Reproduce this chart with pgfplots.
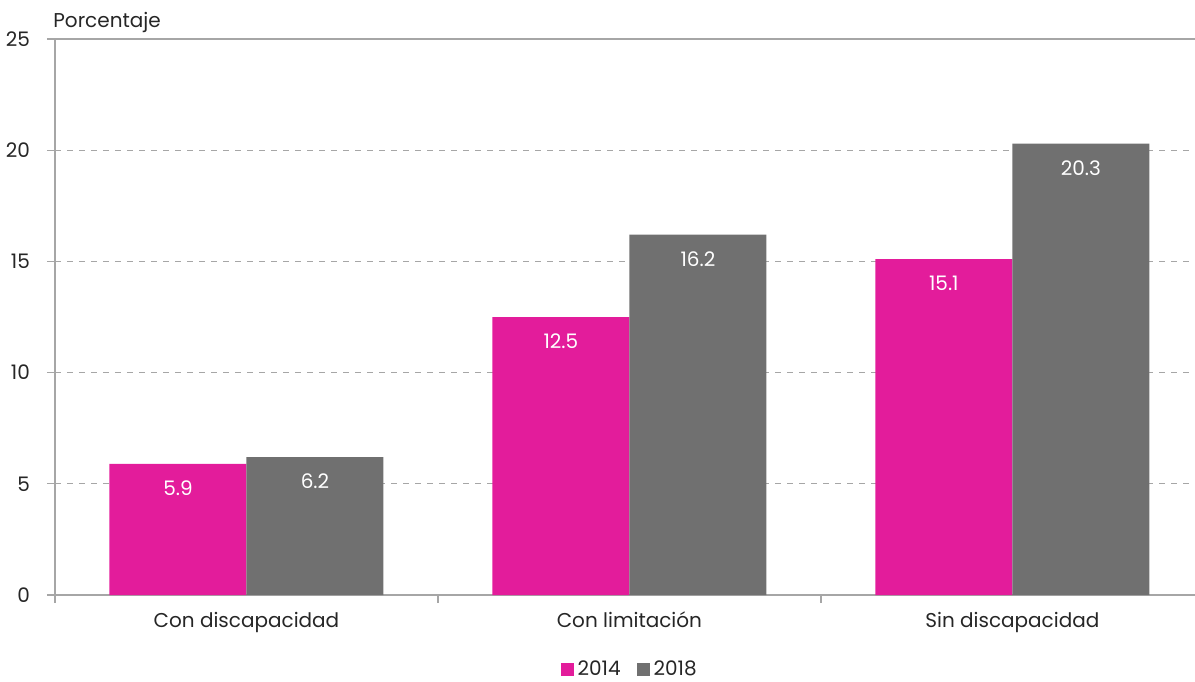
\documentclass[border=0pt]{standalone}
\usepackage{fontspec}
\setmainfont{Poppins}
\usepackage{pgfplots}
\pgfplotsset{compat=1.18}
\definecolor{rosa}{RGB}{227,28,155}
\definecolor{gris}{RGB}{112,112,112}
\definecolor{texto}{RGB}{38,38,38}
\definecolor{linea}{RGB}{166,166,166}

\begin{document}
\begin{tikzpicture}
\begin{axis}[
    at={(0,0)}, anchor=south west,
    scale only axis,
    width=570pt, height=278pt,
    ybar=0pt, bar width=68.5pt,
    xmin=-0.5, xmax=2.477,
    ymin=0, ymax=25,
    ytick={0,5,...,20},
    extra y ticks={25},
    extra y tick style={grid style={solid, linea, line width=0.6pt}},
    xtick={0,1,2},
    xticklabels={Con discapacidad, Con limitación, Sin discapacidad},
    extra x ticks={-0.5,0.5,1.5},
    extra x tick labels={},
    extra x tick style={x tick style={draw=linea, line width=0.7pt}},
    x tick style={draw=none},
    y tick style={draw=linea, line width=0.6pt},
    major tick length=4pt,
    axis x line*=bottom, axis y line*=left,
    axis line style={draw=linea, line width=0.7pt},
    tick align=outside,
    ymajorgrids, grid style={dashed, linea, line width=0.5pt},
    tick label style={font=\fontsize{10}{12}\selectfont, text=texto},
    yticklabel style={xshift=-5pt},
    xticklabel style={yshift=-1pt},
    /pgf/number format/assume math mode=true,
    nodes near coords,
    every node near coord/.append style={anchor=north, yshift=-5pt, text=white, font=\fontsize{10}{12}\selectfont},
    nodes near coords style={/pgf/number format/fixed, /pgf/number format/fixed zerofill, /pgf/number format/precision=1},
    legend style={at={(0.505,-0.135)}, anchor=center, draw=none, legend columns=2,
        font=\fontsize{10}{12}\selectfont, text=texto,
        /tikz/every even column/.append style={column sep=6pt}},
    legend image code/.code={\fill[#1] (0pt,-3.2pt) rectangle (6.5pt,3.3pt);},
    clip=false,
]
\addplot[fill=rosa, draw=none] coordinates {(0,5.9) (1,12.5) (2,15.1)};
\addplot[fill=gris, draw=none] coordinates {(0,6.2) (1,16.2) (2,20.3)};
\legend{2014,2018}
\node[anchor=south west, font=\fontsize{10}{12}\selectfont, text=texto, inner sep=0pt] at (rel axis cs:0,1) [yshift=3pt, xshift=-1pt] {Porcentaje};
\end{axis}
\pgfresetboundingbox
\path (-27.5pt,-43pt) rectangle (570pt,297.5pt);
\end{tikzpicture}
\end{document}
